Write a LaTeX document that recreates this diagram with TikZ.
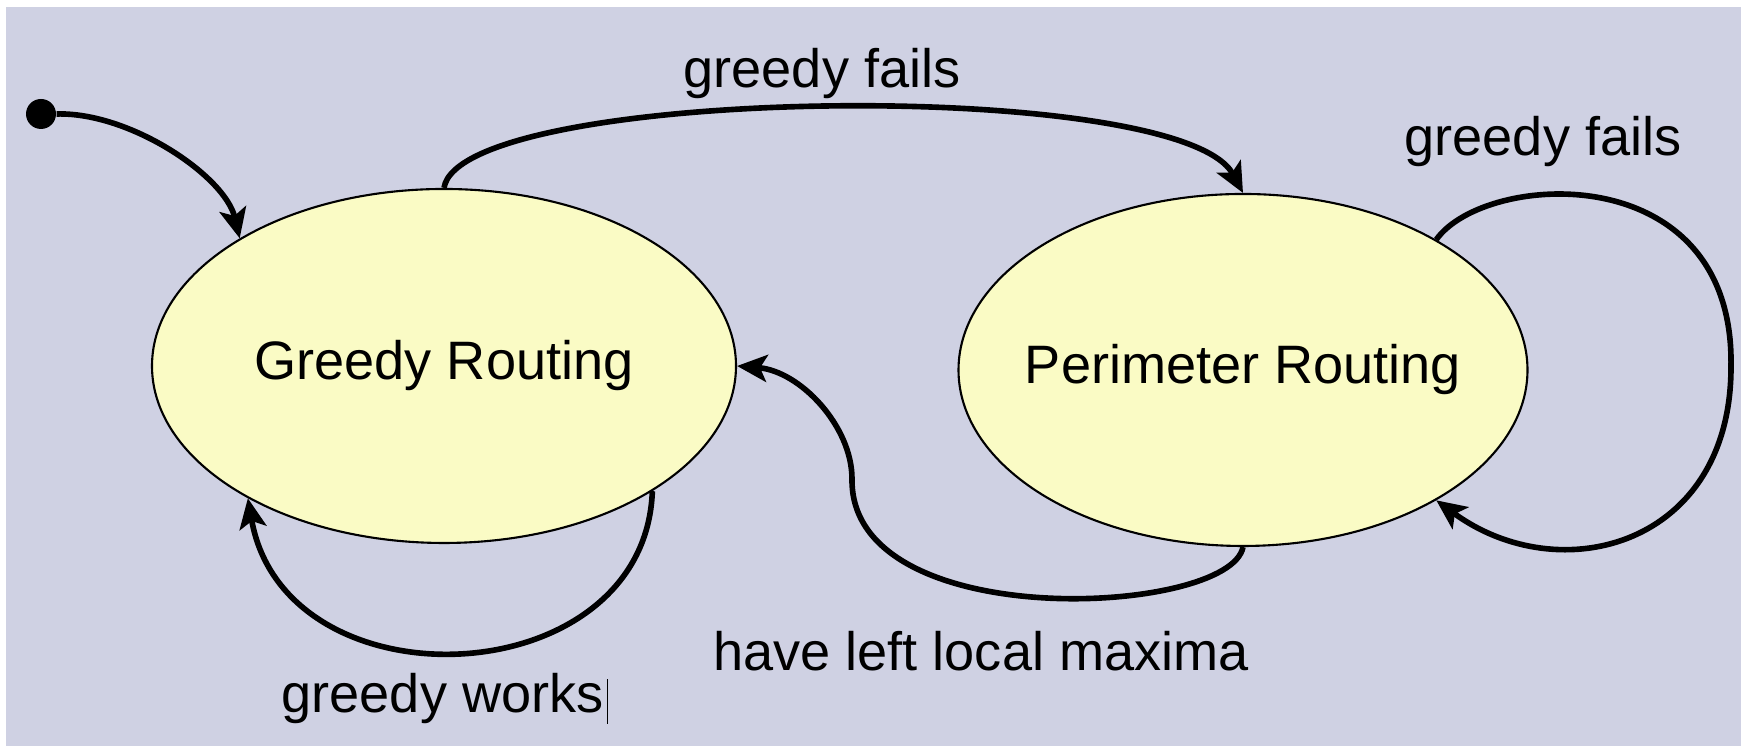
\documentclass[tikz,border=0pt]{standalone}
\usepackage{fontspec}
\setmainfont{Liberation Sans}
\usepackage{tikz}
\usetikzlibrary{arrows.meta}
\usetikzlibrary{shapes.geometric}
\definecolor{slate}{RGB}{207,209,227}
\definecolor{paleyellow}{RGB}{250,251,197}

\begin{document}
\begin{tikzpicture}[font=\fontsize{15.4}{18}\selectfont,
  state/.style={ellipse, draw=black, line width=0.6pt, fill=paleyellow, inner sep=-0.5cm},
  trans/.style={line width=1.6pt, -{Stealth[length=3mm,width=2.7mm,inset=0.7mm]}}]
\useasboundingbox (0,0) rectangle (17.46,7.46);
\fill[slate] (0.06,0) rectangle (17.41,7.39);

% the two states and the start point
\node[state, minimum width=5.84cm, minimum height=3.54cm] (greedy) at (4.44,3.80) {Greedy Routing};
\node[state, minimum width=5.69cm, minimum height=3.52cm] (perim) at (12.43,3.76) {Perimeter Routing};
\node[circle, fill=black, inner sep=0pt, minimum size=3mm] (init) at (0.41,6.32) {};

\coordinate (loopR) at (17.31,3.79);
\coordinate (bend) at (8.52,2.67);

% transitions
\draw[trans] (init.east) .. controls (1.3,6.34) and (2.25,5.7) .. (greedy.148);
\draw[trans] (greedy.north) .. controls (4.60,6.60) and (11.80,6.70) .. (perim.north);
\draw[trans] (perim.34) .. controls (14.85,5.75) and (17.35,5.90) .. (loopR)
                        .. controls (17.31,2.0) and (15.6,1.55) .. (perim.-34);
\draw[trans] (greedy.-31) .. controls (6.45,0.5) and (2.85,0.35) .. (greedy.-146);
\draw[trans] (perim.south) .. controls (12.3,1.3) and (8.5,1.1) .. (bend)
                           .. controls (8.52,3.2) and (8.0,3.75) .. (greedy.east);

\node (failsTop) at (8.22,6.72) {greedy fails};
\node (failsLoop) at (15.43,6.04) {greedy fails};
\node (works) at (4.45,0.47) {greedy works\hspace{0.03cm}\rule[-3.1pt]{0.5pt}{12.8pt}};
\node (leftMax) at (9.81,0.95) {have left local maxima};
\end{tikzpicture}
\end{document}
